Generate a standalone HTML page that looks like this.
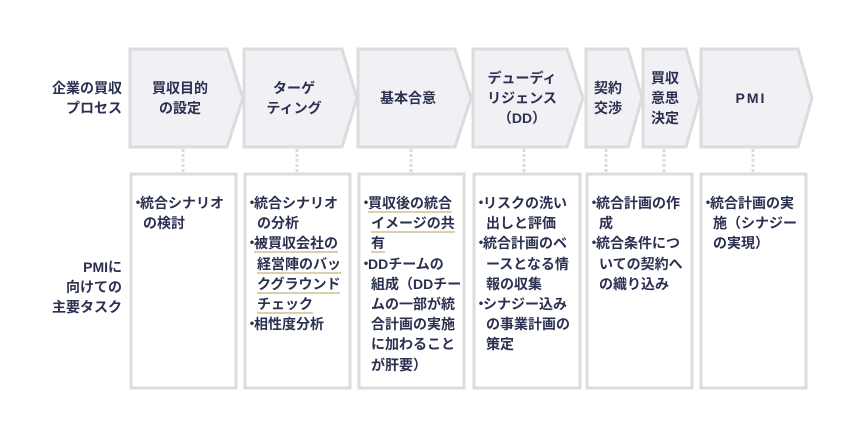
<!DOCTYPE html>
<html><head><meta charset="utf-8"><style>
body{margin:0;width:860px;height:440px;background:#fff;position:relative;overflow:hidden;font-family:"Liberation Sans","Noto Sans CJK JP",sans-serif;color:#2b3050;font-weight:bold;}
.t{position:absolute;font-size:14px;line-height:20.2px;}
.c{text-align:center;}
.r{text-align:right;}
.l div{padding-left:9px;white-space:nowrap;}
.l div.b{padding-left:0;}
.b:before{content:"・";display:inline-block;width:9px;margin-left:-3px;overflow:visible;letter-spacing:-5px;}
u{text-decoration:none;border-bottom:2px solid #dccfae;padding-bottom:0px;}
</style></head><body>
<svg width="860" height="440" style="position:absolute;left:0;top:0">
<g fill="#f0f0f5" stroke="#dcdcdc" stroke-width="3" stroke-linejoin="miter">
<polygon points="130,49 227,49 243,98 227,147 130,147"/>
<polygon points="244,49 342,49 357,98 342,147 244,147"/>
<polygon points="358,49 455,49 471,98 455,147 358,147"/>
<polygon points="473,49 567,49 583,98 567,147 473,147"/>
<polygon points="586,49 628,49 642,98 628,147 586,147"/>
<polygon points="643,49 686,49 700,98 686,147 643,147"/>
<polygon points="701,49 798,49 812,98 798,147 701,147"/>
</g>
<g stroke="#dcdcdc" stroke-width="3" stroke-dasharray="3,2">
<line x1="183" y1="149" x2="183" y2="173"/>
<line x1="297" y1="149" x2="297" y2="173"/>
<line x1="411" y1="149" x2="411" y2="173"/>
<line x1="524" y1="149" x2="524" y2="173"/>
<line x1="606" y1="149" x2="606" y2="173"/>
<line x1="664" y1="149" x2="664" y2="173"/>
<line x1="753" y1="149" x2="753" y2="173"/>
</g>
<g fill="#fff" stroke="#dcdcdc" stroke-width="3">
<rect x="131" y="174" width="105" height="214"/>
<rect x="245" y="174" width="105" height="214"/>
<rect x="359" y="174" width="105" height="214"/>
<rect x="474" y="174" width="106" height="214"/>
<rect x="587" y="174" width="105" height="214"/>
<rect x="701" y="174" width="105" height="214"/>
</g>
</svg>
<div class="t r" style="left:20px;top:78px;width:102px">企業の買収<br>プロセス</div>
<div class="t r" style="left:20px;top:257px;width:102px">PMIに<br>向けての<br>主要タスク</div>

<div class="t c" style="left:130px;top:78px;width:100px">買収目的<br>の設定</div>
<div class="t c" style="left:244px;top:78px;width:100px">ターゲ<br>ティング</div>
<div class="t c" style="left:358px;top:88px;width:100px">基本合意</div>
<div class="t c" style="left:473px;top:68px;width:98px">デューディ<br>リジェンス<br>（DD）</div>
<div class="t c" style="left:586px;top:78px;width:44px">契約<br>交渉</div>
<div class="t c" style="left:643px;top:68px;width:44px">買収<br>意思<br>決定</div>
<div class="t c" style="left:701px;top:88px;width:100px;letter-spacing:2px">PMI</div>

<div class="t l" style="left:134px;top:193px;width:100px"><div class="b">統合シナリオ</div><div>の検討</div></div>
<div class="t l" style="left:248px;top:193px;width:100px"><div class="b">統合シナリオ</div><div>の分析</div><div class="b"><u>被買収会社の</u></div><div><u>経営陣のバッ</u></div><div><u>クグラウンド</u></div><div><u>チェック</u></div><div class="b">相性度分析</div></div>
<div class="t l" style="left:362px;top:193px;width:100px"><div class="b"><u>買収後の統合</u></div><div><u>イメージの共</u></div><div><u>有</u></div><div class="b">DDチームの</div><div>組成（DDチー</div><div>ムの一部が統</div><div>合計画の実施</div><div>に加わること</div><div>が肝要）</div></div>
<div class="t l" style="left:477px;top:193px;width:100px"><div class="b">リスクの洗い</div><div>出しと評価</div><div class="b">統合計画のベ</div><div>ースとなる情</div><div>報の収集</div><div class="b">シナジー込み</div><div>の事業計画の</div><div>策定</div></div>
<div class="t l" style="left:590px;top:193px;width:100px"><div class="b">統合計画の作</div><div>成</div><div class="b">統合条件につ</div><div>いての契約へ</div><div>の織り込み</div></div>
<div class="t l" style="left:704px;top:193px;width:100px"><div class="b">統合計画の実</div><div>施（シナジー</div><div>の実現）</div></div>
</body></html>
